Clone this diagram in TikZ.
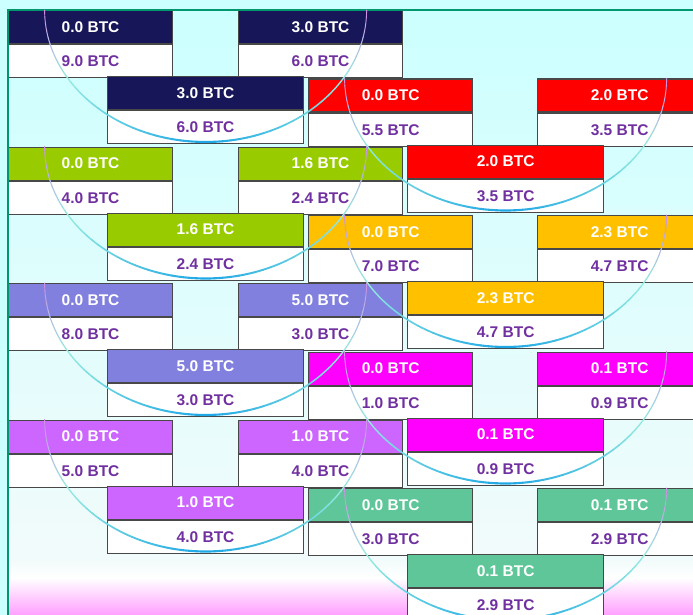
\documentclass[tikz,border=0pt]{standalone}
\usepackage{fontspec}
\setmainfont{Liberation Sans}
\usetikzlibrary{positioning}
\definecolor{bgcyan}{RGB}{204,255,255}
\definecolor{bgpale}{RGB}{242,251,251}
\definecolor{bgpink}{RGB}{255,160,255}
\definecolor{frameteal}{RGB}{0,150,110}
\definecolor{cellgray}{RGB}{72,72,72}
\definecolor{btcpurple}{RGB}{112,48,160}
\definecolor{walletnavy}{RGB}{22,22,88}
\definecolor{walletred}{RGB}{255,0,0}
\definecolor{walletlime}{RGB}{153,204,0}
\definecolor{walletamber}{RGB}{255,192,0}
\definecolor{walletperi}{RGB}{130,128,222}
\definecolor{walletmagenta}{RGB}{255,0,255}
\definecolor{walletviolet}{RGB}{204,102,255}
\definecolor{walletsea}{RGB}{94,198,152}
\definecolor{arcviolet}{RGB}{205,145,228}
\definecolor{arcaqua}{RGB}{150,236,224}
\definecolor{arcblue}{RGB}{24,164,230}
\tikzset{
  cell/.style={draw=cellgray,line width=1.2pt,minimum height=33pt,inner sep=0pt,
    font=\fontsize{15.5}{18}\selectfont\bfseries,anchor=north west},
  topcell/.style={cell,text=white},
  botcell/.style={cell,fill=white,text=btcpurple},
}
\newcommand{\btcbox}[6]{%
  \node[topcell,fill=#4,minimum width=#3] (#1t) at (#2) {#5};
  \node[botcell,minimum width=#3,below=0pt of #1t] (#1b) {#6};}
\newcommand{\swingarc}[1]{%
  \foreach \t in {0,3,...,87}{%
    \pgfmathsetmacro\lw{0.9+1.3*\t/90}%
    \ifnum\t<30
      \pgfmathtruncatemacro\pct{\t*100/30}\edef\segcol{arcaqua!\pct!arcviolet}%
    \else
      \pgfmathtruncatemacro\pct{(\t-30)*100/60}\edef\segcol{arcblue!\pct!arcaqua}%
    \fi
    \pgfmathsetmacro\sa{180-\t}\pgfmathsetmacro\ea{177-\t}\pgfmathsetmacro\eb{\t+3}%
    \draw[draw=\segcol,line width=\lw pt,line cap=round,shift={(#1)}]
      ({-161*cos(\t)},{132*sin(\t)}) arc[start angle=\sa,end angle=\ea,x radius=161,y radius=132]
      ({161*cos(\t)},{132*sin(\t)}) arc[start angle=\t,end angle=\eb,x radius=161,y radius=132];
  }}

\begin{document}
\begin{tikzpicture}[x=1pt,y=-1pt]
\useasboundingbox (0,0) rectangle (693,615);
\clip (0,0) rectangle (693,615);
% backdrop
\fill[bgcyan] (0,0) rectangle (693,615);
\shade[top color=bgcyan,bottom color=bgpale] (8,10) rectangle (693,560);
\shade[top color=bgpale,bottom color=white] (8,560) rectangle (693,578);
\shade[top color=white,bottom color=bgpink] (8,578) rectangle (693,615);

% wallets, left column
\btcbox{nva}{8,10}{164pt}{walletnavy}{0.0 BTC}{9.0 BTC}
\btcbox{nvb}{238,10}{164pt}{walletnavy}{3.0 BTC}{6.0 BTC}
\btcbox{nvc}{107,76}{196pt}{walletnavy}{3.0 BTC}{6.0 BTC}
\btcbox{lma}{8,146.5}{164pt}{walletlime}{0.0 BTC}{4.0 BTC}
\btcbox{lmb}{238,146.5}{164pt}{walletlime}{1.6 BTC}{2.4 BTC}
\btcbox{lmc}{107,212.5}{196pt}{walletlime}{1.6 BTC}{2.4 BTC}
\btcbox{pra}{8,283}{164pt}{walletperi}{0.0 BTC}{8.0 BTC}
\btcbox{prb}{238,283}{164pt}{walletperi}{5.0 BTC}{3.0 BTC}
\btcbox{prc}{107,349}{196pt}{walletperi}{5.0 BTC}{3.0 BTC}
\btcbox{vla}{8,419.5}{164pt}{walletviolet}{0.0 BTC}{5.0 BTC}
\btcbox{vlb}{238,419.5}{164pt}{walletviolet}{1.0 BTC}{4.0 BTC}
\btcbox{vlc}{107,485.5}{196pt}{walletviolet}{1.0 BTC}{4.0 BTC}
% wallets, right column
\btcbox{rda}{308,78.5}{164pt}{walletred}{0.0 BTC}{5.5 BTC}
\btcbox{rdb}{537,78.5}{164pt}{walletred}{2.0 BTC}{3.5 BTC}
\btcbox{rdc}{407,144.5}{196pt}{walletred}{2.0 BTC}{3.5 BTC}
\btcbox{ama}{308,215}{164pt}{walletamber}{0.0 BTC}{7.0 BTC}
\btcbox{amb}{537,215}{164pt}{walletamber}{2.3 BTC}{4.7 BTC}
\btcbox{amc}{407,281}{196pt}{walletamber}{2.3 BTC}{4.7 BTC}
\btcbox{mga}{308,351.5}{164pt}{walletmagenta}{0.0 BTC}{1.0 BTC}
\btcbox{mgb}{537,351.5}{164pt}{walletmagenta}{0.1 BTC}{0.9 BTC}
\btcbox{mgc}{407,417.5}{196pt}{walletmagenta}{0.1 BTC}{0.9 BTC}
\btcbox{sga}{308,488}{164pt}{walletsea}{0.0 BTC}{3.0 BTC}
\btcbox{sgb}{537,488}{164pt}{walletsea}{0.1 BTC}{2.9 BTC}
\btcbox{sgc}{407,554}{196pt}{walletsea}{0.1 BTC}{2.9 BTC}

\draw[frameteal,line width=2pt] (8,615) -- (8,10) -- (693,10);

% swing arcs
\foreach \g in {nv,lm,pr,vl,rd,am,mg,sg}{
  \coordinate (\g arc) at (\g ct |- \g at.north);
  \swingarc{\g arc}
}
\end{tikzpicture}
\end{document}
